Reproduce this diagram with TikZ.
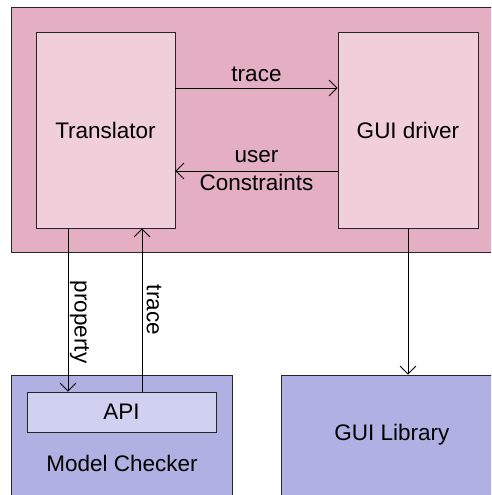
\documentclass[tikz,border=0pt]{standalone}
\usepackage{fontspec}
\setmainfont{Liberation Sans}
\usetikzlibrary{arrows.meta}
\definecolor{pinkbg}{RGB}{228,175,194}
\definecolor{pinklt}{RGB}{240,206,218}
\definecolor{bluebg}{RGB}{176,176,226}
\definecolor{bluelt}{RGB}{208,208,240}
\tikzset{
  every node/.style={font=\fontsize{22.5}{28}\selectfont},
  box/.style={draw=black!85, line width=0.8pt, rectangle, inner sep=0pt},
  arr/.style={draw=black, line width=0.8pt, -{Straight Barb[length=8pt,width=16pt,line width=0.8pt]}},
  txt/.style={inner sep=0pt, align=center}
}
\begin{document}
\begin{tikzpicture}[x=1pt,y=1pt]
\useasboundingbox (0,0) rectangle (491,495);
\clip (0,0) rectangle (491,495);
\fill[white] (0,0) rectangle (491,495);
% outer pink container
\node[box, fill=pinkbg, minimum width=500pt, minimum height=245pt] (outer) at (261,365.5) {};
\node[box, fill=pinklt, minimum width=139pt, minimum height=196pt] (tr) at (105.5,365) {Translator};
\node[box, fill=pinklt, minimum width=140pt, minimum height=196pt] (gd) at (408,365) {GUI driver};
% bottom boxes
\node[box, fill=bluebg, minimum width=221pt, minimum height=150pt] (mc) at (121.5,45) {};
\node[box, fill=bluelt, minimum width=189pt, minimum height=40pt] (api) at (121.5,83) {API};
\node[txt] (mct) at (122,32) {Model Checker};
\node[box, fill=bluebg, minimum width=230pt, minimum height=150pt] (gl) at (396,45) {};
\node[txt] (glt) at (392,60) {GUI Library};
% horizontal arrows
\draw[arr] ([yshift=42pt]tr.east) -- node[txt, above=6pt] (lt1) {trace} ([yshift=42pt]gd.west);
\draw[arr] ([yshift=-41pt]gd.west) -- node[txt] (lt2) {user\\Constraints} ([yshift=-41pt]tr.east);
% vertical arrows
\draw[arr] ([xshift=-37.5pt]tr.south) -- ([xshift=-53.5pt]api.north);
\draw[arr] ([xshift=20.5pt]api.north) -- ([xshift=36.5pt]tr.south);
\draw[arr] (gd.south) -- (gd.south |- gl.north);
\node[txt, rotate=-90] (lp) at (79.5,173) {property};
\node[txt, rotate=-90] (ltr) at (154,185) {trace};
\end{tikzpicture}
\end{document}
